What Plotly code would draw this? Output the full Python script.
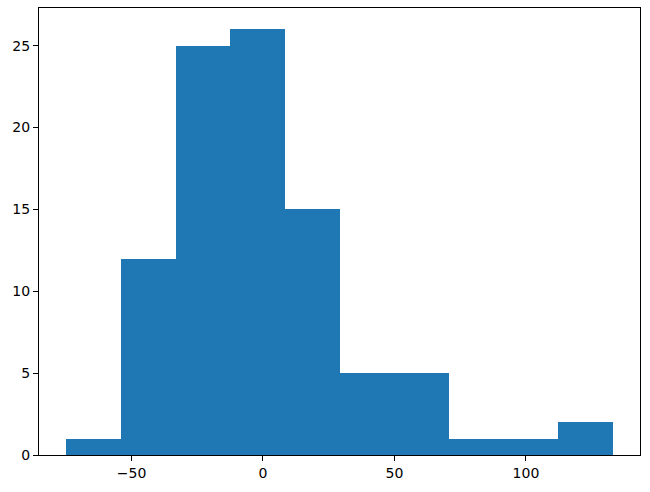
import plotly.graph_objects as go

bin_edges = [-74.8, -54.02, -33.24, -12.46, 8.32, 29.1, 49.88, 70.66, 91.44, 112.22, 133.0]
counts = [1, 12, 25, 26, 15, 5, 5, 1, 1, 2]
x_ticks = [-50, 0, 50, 100]
y_ticks = [0, 5, 10, 15, 20, 25]

centers = [(a + b) / 2 for a, b in zip(bin_edges[:-1], bin_edges[1:])]
widths = [b - a for a, b in zip(bin_edges[:-1], bin_edges[1:])]

span = bin_edges[-1] - bin_edges[0]
xr = [bin_edges[0] - 0.05 * span, bin_edges[-1] + 0.05 * span]
yr = [0, max(counts) * 1.05]

fig = go.Figure(go.Bar(
    x=centers, y=counts, width=widths,
    marker=dict(color="#1f77b4", line=dict(width=0)),
    hoverinfo="skip",
))

axis_common = dict(
    showline=True, linecolor="black", linewidth=1, mirror=True,
    ticks="outside", ticklen=5, tickwidth=1, tickcolor="black",
    showgrid=False, zeroline=False, automargin=False,
    tickfont=dict(family="DejaVu Sans", size=14, color="black"),
)

fig.update_layout(
    width=650, height=492,
    margin=dict(l=39, r=10, t=8, b=37),
    paper_bgcolor="white", plot_bgcolor="white",
    bargap=0, showlegend=False,
    xaxis=dict(range=xr, tickvals=x_ticks, ticktext=["\u221250", "0", "50", "100"], **axis_common),
    yaxis=dict(range=yr, tickvals=y_ticks, **axis_common),
)

fig.write_html(
    "out.html",
    config={"displayModeBar": False},
    post_script="document.body.style.margin='0';document.body.style.padding='0';document.body.style.overflow='hidden';",
)
